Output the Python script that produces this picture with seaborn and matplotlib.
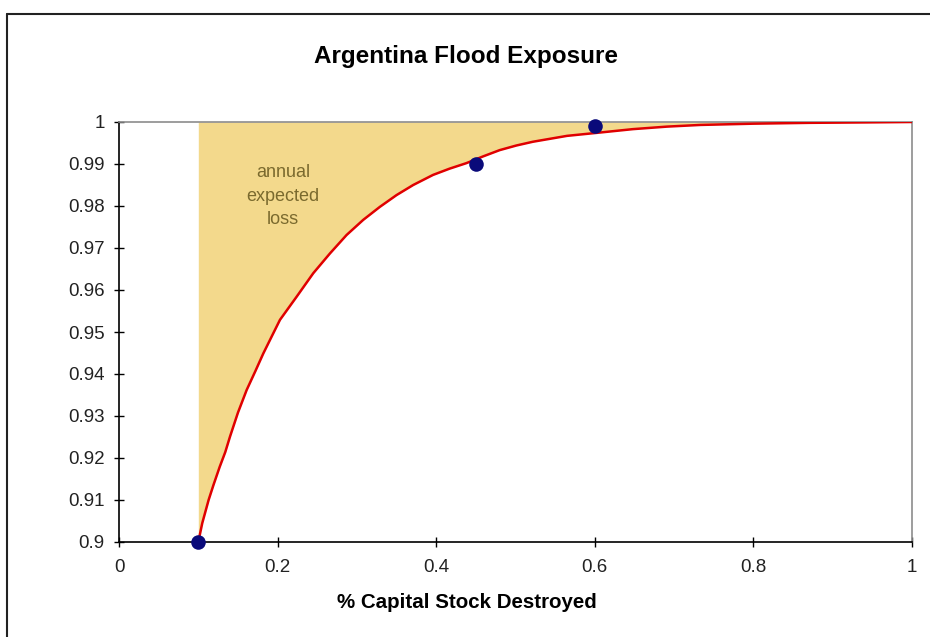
import matplotlib
matplotlib.use("Agg")
import matplotlib.pyplot as plt
from matplotlib.lines import Line2D
from matplotlib.ticker import FuncFormatter, MultipleLocator
import seaborn as sns
import pandas as pd

# Exceedance curve: share of capital stock destroyed vs. cumulative probability
loss_share = [0.100, 0.105, 0.113, 0.119, 0.127, 0.134, 0.140, 0.150, 0.161,
              0.172, 0.182, 0.193, 0.203, 0.224, 0.245, 0.266, 0.287, 0.308,
              0.329, 0.350, 0.371, 0.396, 0.417, 0.438, 0.459, 0.480, 0.501,
              0.522, 0.565, 0.607, 0.648, 0.691, 0.733, 0.800, 0.870, 0.940,
              1.000]
cum_prob = [0.9000, 0.9045, 0.9100, 0.9135, 0.9179, 0.9214, 0.9251, 0.9308,
            0.9362, 0.9407, 0.9449, 0.9491, 0.9529, 0.9584, 0.9640, 0.9687,
            0.9731, 0.9767, 0.9798, 0.9826, 0.9850, 0.9874, 0.9889, 0.9902,
            0.9918, 0.9933, 0.9944, 0.9953, 0.9967, 0.9975, 0.9983, 0.9989,
            0.9993, 0.9996, 0.9998, 0.9999, 1.0000]

# Observed points
obs_loss = [0.10, 0.45, 0.60]
obs_prob = [0.900, 0.990, 0.999]

title = "Argentina Flood Exposure"
x_label = "% Capital Stock Destroyed"
area_label = "annual\nexpected\nloss"

curve = pd.DataFrame({"loss": loss_share, "prob": cum_prob})
obs = pd.DataFrame({"loss": obs_loss, "prob": obs_prob})

sns.set_theme(style="white")
plt.rcParams["font.family"] = ["Liberation Sans", "DejaVu Sans"]

fig = plt.figure(figsize=(9.3, 6.37), dpi=100)
fig.patch.set_facecolor("white")
ax = fig.add_axes([119 / 930, 1 - 542 / 637, (912 - 119) / 930, (542 - 122) / 637])
ax.set_facecolor("white")

# shaded expected-loss region between the curve and probability 1
ax.fill_between(curve["loss"], curve["prob"], 1.0, color="#F3D98C", lw=0, zorder=1)
sns.lineplot(data=curve, x="loss", y="prob", ax=ax, color="#E00000", lw=1.8,
             zorder=3, estimator=None, sort=False)
sns.scatterplot(data=obs, x="loss", y="prob", ax=ax, color="#0A0A7A", s=110,
                edgecolor="#0A0A7A", linewidth=0, zorder=4, clip_on=False)

ax.text(0.207, 0.9823, area_label, ha="center", va="center", fontsize=13,
        color="#7A6A2E", linespacing=1.5, zorder=5)

ax.set_xlim(0, 1)
ax.set_ylim(0.9, 1.0)
ax.xaxis.set_major_locator(MultipleLocator(0.2))
ax.yaxis.set_major_locator(MultipleLocator(0.01))
fmt = FuncFormatter(lambda v, p: f"{round(v, 4):g}")
ax.xaxis.set_major_formatter(fmt)
ax.yaxis.set_major_formatter(fmt)
ax.tick_params(axis="both", direction="inout", length=6.5, width=1.0,
               color="black", labelsize=13.5, labelcolor="#222222",
               left=True, bottom=True)
ax.tick_params(axis="y", pad=7)
ax.tick_params(axis="x", pad=9)
ax.set_xlabel("")
ax.set_ylabel("")

for side in ["left", "bottom"]:
    ax.spines[side].set_color("black")
    ax.spines[side].set_linewidth(1.2)
for side in ["top", "right"]:
    ax.spines[side].set_color("#8C8C8C")
    ax.spines[side].set_linewidth(1.2)
    ax.spines[side].set_visible(True)

fig.text(466 / 930, 1 - 57 / 637, title, ha="center", va="center",
         fontsize=17.5, fontweight="bold", color="black")
fig.text(467 / 930, 1 - 603 / 637, x_label, ha="center", va="center",
         fontsize=14.8, fontweight="bold", color="black")

# chart area frame
fig.add_artist(Line2D([7 / 930, 1.0], [1 - 14 / 637, 1 - 14 / 637],
                      transform=fig.transFigure, color="#222222", lw=1.5))
fig.add_artist(Line2D([7 / 930, 7 / 930], [0.0, 1 - 14 / 637],
                      transform=fig.transFigure, color="#222222", lw=1.5))

fig.savefig("out.png", dpi=100, facecolor="white")
